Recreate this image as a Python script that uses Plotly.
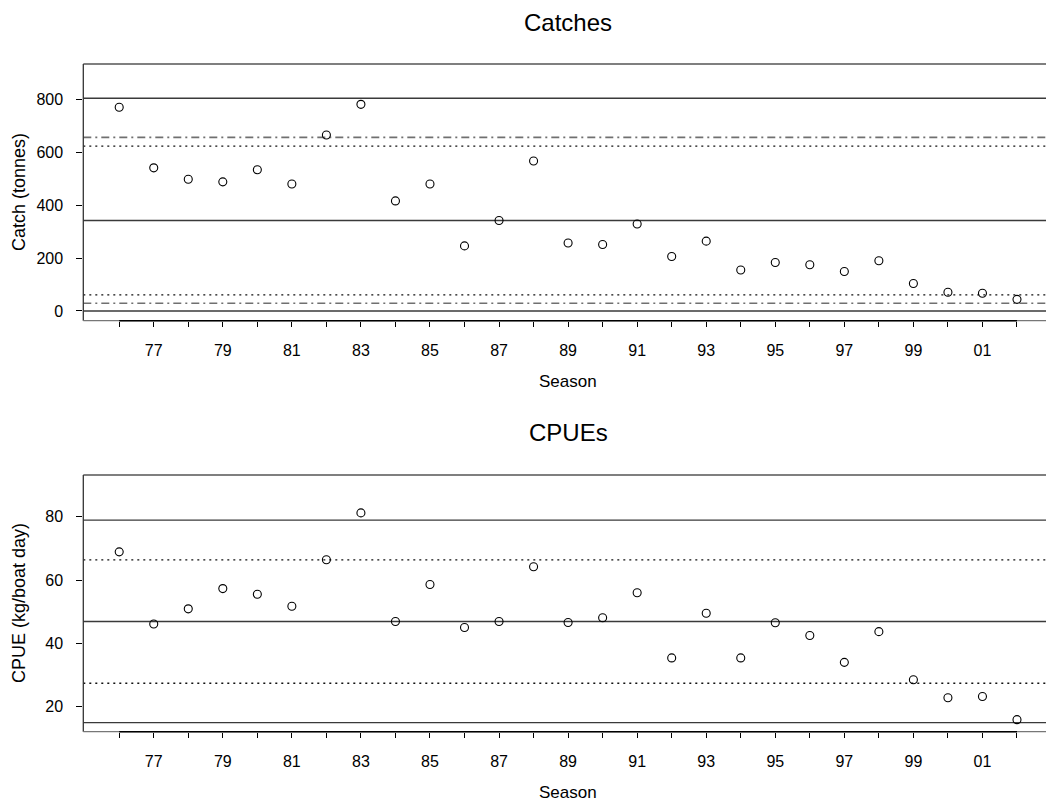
import plotly.graph_objects as go

# ---------------- data ----------------
seasons = list(range(1976, 2003))
catch_t = [770, 541, 498, 488, 534, 480, 665, 781, 416, 480, 246, 342, 567,
           257, 251, 329, 206, 264, 155, 183, 175, 149, 190, 104, 71, 67, 44]
cpue = [68.9, 46.1, 50.9, 57.3, 55.5, 51.7, 66.4, 81.2, 46.9, 58.6, 45.0, 46.9, 64.2,
        46.6, 48.1, 56.0, 35.4, 49.5, 35.4, 46.5, 42.5, 34.0, 43.7, 28.5, 22.8, 23.2, 15.9]

# reference lines: (value, style)
catch_lines = [(804, "solid"), (342, "solid"), (0, "solid"),
               (656, "dashdot"), (29, "dashdot"),
               (623, "dot"), (61, "dot")]
cpue_lines = [(78.95, "solid"), (46.9, "solid"), (14.95, "solid"),
              (66.35, "dot"), (27.4, "dot")]

tick_text = [("%02d" % (y % 100)) if (y % 2 == 1) else "" for y in seasons]
catch_ticks = [0, 200, 400, 600, 800]
cpue_ticks = [20, 40, 60, 80]

# ---------------- layout geometry ----------------
W, H = 1046, 803
FONT = "Liberation Sans, Arial, sans-serif"
x_left_px = 83.3
px_per_year = 34.53
x0 = 1974.96
x1 = x0 + (W - x_left_px) / px_per_year

top_dom = [1 - 320.7 / H, 1 - 64 / H]
bot_dom = [1 - 731.7 / H, 1 - 475 / H]

fig = go.Figure()

dash_map = {"solid": "solid", "dashdot": "8px,4px,2px,4px", "dot": "2px,4px"}
color_map = {"solid": "#3a3a3a", "dashdot": "#707070", "dot": "#111111"}
width_map = {"solid": 1.3, "dashdot": 1.6, "dot": 1.3}

fig.add_trace(go.Scatter(x=seasons, y=catch_t, mode="markers", xaxis="x", yaxis="y",
                         marker=dict(symbol="circle-open", size=8, color="black",
                                     line=dict(width=1.1, color="black")),
                         showlegend=False, cliponaxis=False))
fig.add_trace(go.Scatter(x=seasons, y=cpue, mode="markers", xaxis="x2", yaxis="y2",
                         marker=dict(symbol="circle-open", size=8, color="black",
                                     line=dict(width=1.1, color="black")),
                         showlegend=False, cliponaxis=False))

shapes = []
for val, sty in catch_lines:
    shapes.append(dict(type="line", xref="x domain", yref="y", x0=0, x1=1, y0=val, y1=val,
                       line=dict(color=color_map[sty], width=width_map[sty], dash=dash_map[sty]),
                       layer="below"))
for val, sty in cpue_lines:
    shapes.append(dict(type="line", xref="x2 domain", yref="y2", x0=0, x1=1, y0=val, y1=val,
                       line=dict(color=color_map[sty], width=width_map[sty], dash=dash_map[sty]),
                       layer="below"))

# box (top, left, bottom) and R-style axis lines
for xa, ya in (("x", "y"), ("x2", "y2")):
    xd, yd = xa + " domain", ya + " domain"
    shapes.append(dict(type="line", xref=xd, yref=yd, x0=0, x1=1, y0=1, y1=1,
                       line=dict(color="#555555", width=1.3)))
    shapes.append(dict(type="line", xref=xd, yref=yd, x0=0, x1=0, y0=0, y1=1,
                       line=dict(color="#333333", width=1.3)))
    shapes.append(dict(type="line", xref=xd, yref=yd, x0=0, x1=1, y0=0, y1=0,
                       line=dict(color="#777777", width=1.3)))
    shapes.append(dict(type="line", xref=xa, yref=yd, x0=seasons[0], x1=seasons[-1], y0=0, y1=0,
                       line=dict(color="black", width=1.6)))

xaxis_common = dict(range=[x0, x1], tickmode="array", tickvals=seasons, ticktext=tick_text,
                    ticks="outside", ticklen=5, tickwidth=1, tickcolor="black",
                    showline=False, showgrid=False, zeroline=False,
                    tickfont=dict(family=FONT, size=16, color="black"),
                    ticklabelstandoff=10, domain=[x_left_px / W, 1])
yaxis_common = dict(ticks="outside", ticklen=6, tickwidth=1, tickcolor="black",
                    showline=False, showgrid=False, zeroline=False,
                    tickfont=dict(family=FONT, size=16, color="black"),
                    ticklabelstandoff=10)

fig.update_layout(
    width=W, height=H,
    margin=dict(l=0, r=0, t=0, b=0),
    paper_bgcolor="white", plot_bgcolor="white",
    showlegend=False,
    xaxis=dict(**xaxis_common, anchor="y"),
    xaxis2=dict(**xaxis_common, anchor="y2"),
    yaxis=dict(**yaxis_common, range=[-36.7, 933.4], tickvals=catch_ticks,
               domain=top_dom, anchor="x"),
    yaxis2=dict(**yaxis_common, range=[12.1, 93.17], tickvals=cpue_ticks,
                domain=bot_dom, anchor="x2"),
    shapes=shapes,
)

cx = 568 / W
ann = [
    dict(text="Catches", x=cx, y=1 - 22 / H, size=24),
    dict(text="CPUEs", x=cx, y=1 - 432 / H, size=24),
    dict(text="Season", x=cx, y=1 - 381 / H, size=17),
    dict(text="Season", x=cx, y=1 - 792 / H, size=17),
]
annotations = [dict(text=a["text"], x=a["x"], y=a["y"], xref="paper", yref="paper",
                    xanchor="center", yanchor="middle", showarrow=False,
                    font=dict(family=FONT, size=a["size"], color="black")) for a in ann]
annotations.append(dict(text="Catch (tonnes)", x=19.7 / W, y=1 - 192.3 / H, xref="paper", yref="paper",
                        xanchor="center", yanchor="middle", showarrow=False, textangle=-90,
                        font=dict(family=FONT, size=18, color="black")))
annotations.append(dict(text="CPUE (kg/boat day)", x=19.7 / W, y=1 - 603.3 / H, xref="paper", yref="paper",
                        xanchor="center", yanchor="middle", showarrow=False, textangle=-90,
                        font=dict(family=FONT, size=18, color="black")))
fig.update_layout(annotations=annotations)

fig.write_html("out.html", config={"displayModeBar": False},
               post_script="document.body.style.margin='0';document.body.style.padding='0';")
